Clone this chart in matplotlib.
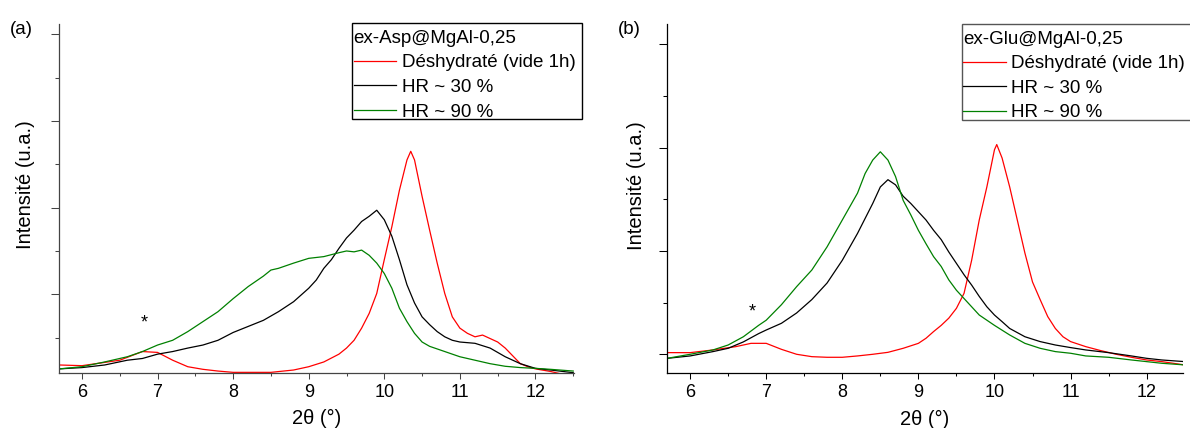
import matplotlib
matplotlib.use("Agg")
import matplotlib.pyplot as plt
from matplotlib.ticker import MultipleLocator, NullFormatter
from matplotlib.patches import Rectangle

plt.rcParams['font.family'] = ['Liberation Sans', 'DejaVu Sans']

# ---------------- data (2theta in degrees, intensity in arbitrary units) ----------------
# Panel (a): ex-Asp@MgAl-0,25
a_red_x = [5.7, 6.0, 6.5, 6.8, 7.0, 7.2, 7.4, 7.6, 7.8, 8.0, 8.5, 8.8, 9.0, 9.2, 9.4, 9.5, 9.6,
           9.7, 9.8, 9.9, 10.0, 10.1, 10.2, 10.3, 10.35, 10.4, 10.5, 10.6, 10.7, 10.8, 10.9, 11.0,
           11.1, 11.2, 11.3, 11.4, 11.5, 11.6, 11.7, 11.8, 11.9, 12.0, 12.2, 12.4, 12.5]
a_red_y = [185, 177, 240, 340, 330, 240, 165, 135, 115, 100, 100, 127, 165, 220, 310, 380, 470,
           610, 780, 1010, 1400, 1780, 2200, 2550, 2650, 2550, 2130, 1740, 1360, 1010, 740, 610,
           550, 510, 530, 490, 450, 380, 290, 200, 165, 140, 110, 70, 50]

a_blk_x = [5.7, 6.0, 6.3, 6.6, 6.8, 7.0, 7.2, 7.4, 7.6, 7.8, 8.0, 8.2, 8.4, 8.6, 8.8, 9.0, 9.1,
           9.2, 9.3, 9.4, 9.5, 9.6, 9.7, 9.8, 9.9, 10.0, 10.1, 10.2, 10.3, 10.4, 10.5, 10.6, 10.7,
           10.8, 10.9, 11.0, 11.2, 11.4, 11.6, 11.8, 12.0, 12.2, 12.5]
a_blk_y = [140, 155, 185, 240, 260, 310, 340, 380, 415, 470, 560, 630, 700, 800, 915, 1070, 1165,
           1300, 1400, 1530, 1650, 1740, 1840, 1900, 1970, 1860, 1670, 1400, 1110, 900, 740, 650, 570,
           510, 470, 450, 435, 380, 280, 200, 146, 127, 96]

a_grn_x = [5.7, 6.0, 6.3, 6.6, 6.8, 7.0, 7.2, 7.4, 7.6, 7.8, 8.0, 8.2, 8.4, 8.5, 8.6, 8.8, 9.0,
           9.2, 9.4, 9.5, 9.6, 9.7, 9.8, 9.9, 10.0, 10.1, 10.2, 10.3, 10.4, 10.5, 10.6, 10.8, 11.0,
           11.2, 11.4, 11.6, 11.8, 12.0, 12.2, 12.5]
a_grn_y = [140, 165, 220, 280, 340, 415, 470, 570, 685, 800, 950, 1090, 1210, 1280, 1300, 1360, 1415,
           1435, 1480, 1500, 1490, 1510, 1450, 1360, 1240, 1070, 840, 685, 550, 450, 400, 340, 280,
           240, 200, 170, 155, 146, 135, 115]

# Panel (b): ex-Glu@MgAl-0,25
b_red_x = [5.7, 6.0, 6.3, 6.6, 6.8, 7.0, 7.2, 7.4, 7.6, 7.8, 8.0, 8.2, 8.4, 8.6, 8.8, 9.0, 9.1,
           9.2, 9.3, 9.4, 9.5, 9.6, 9.7, 9.8, 9.9, 10.0, 10.03, 10.1, 10.2, 10.3, 10.4, 10.5, 10.6,
           10.7, 10.8, 10.9, 11.0, 11.2, 11.4, 11.6, 11.8, 12.0, 12.2, 12.5]
b_red_y = [16, 16, 42, 74, 106, 106, 48, 0, -23, -29, -29, -16, 0, 19, 58, 106, 155,
           220, 280, 350, 445, 590, 910, 1300, 1620, 1980, 2030, 1900, 1620, 1300, 980, 700, 530,
           365, 250, 170, 123, 74, 35, 0, -29, -55, -71, -103]

b_blk_x = [5.7, 6.0, 6.3, 6.5, 6.7, 6.9, 7.0, 7.2, 7.4, 7.6, 7.8, 8.0, 8.2, 8.4, 8.5, 8.6, 8.7,
           8.8, 8.9, 9.0, 9.1, 9.2, 9.3, 9.4, 9.5, 9.6, 9.7, 9.8, 9.9, 10.0, 10.1, 10.2, 10.4,
           10.6, 10.8, 11.0, 11.2, 11.5, 11.8, 12.0, 12.2, 12.5]
b_blk_y = [-39, -16, 26, 58, 120, 200, 235, 300, 400, 530, 690, 910, 1170, 1460, 1620, 1690, 1640,
           1530, 1460, 1380, 1300, 1200, 1110, 990, 880, 770, 670, 560, 460, 380, 316, 250, 170,
           123, 90, 65, 42, 16, -16, -39, -55, -71]

b_grn_x = [5.7, 6.0, 6.3, 6.5, 6.7, 6.9, 7.0, 7.2, 7.4, 7.6, 7.8, 8.0, 8.2, 8.3, 8.4, 8.5, 8.6,
           8.7, 8.8, 8.9, 9.0, 9.1, 9.2, 9.3, 9.4, 9.5, 9.6, 9.7, 9.8, 10.0, 10.2, 10.4, 10.6,
           10.8, 11.0, 11.2, 11.5, 11.8, 12.0, 12.2, 12.5]
b_grn_y = [-39, 0, 42, 90, 170, 280, 330, 480, 655, 816, 1040, 1300, 1560, 1750, 1880, 1960, 1880,
           1720, 1490, 1350, 1200, 1070, 945, 850, 720, 620, 540, 460, 380, 280, 187, 106, 58,
           26, 10, -16, -29, -55, -71, -87, -103]

labels = ["Déshydraté (vide 1h)", "HR ~ 30 %", "HR ~ 90 %"]
titles = ["ex-Asp@MgAl-0,25", "ex-Glu@MgAl-0,25"]
panel_tags = ["(a)", "(b)"]
colors = ["#ff0000", "#000000", "#008000"]

# ---------------- figure ----------------
W, H = 1190, 428
fig = plt.figure(figsize=(W / 100, H / 100), dpi=100)

def px_axes(l, r, t, b):
    return fig.add_axes([l / W, 1 - b / H, (r - l) / W, (b - t) / H])

axA = px_axes(59.3, 574.0, 24.0, 372.7)
axB = px_axes(667.3, 1182.7, 24.0, 373.3)

panels = [
    (axA, [(a_red_x, a_red_y), (a_blk_x, a_blk_y), (a_grn_x, a_grn_y)],
     (5.70, 12.51), (96, 4118), "#444444", (6.82, 670),
     (352.3, 23.3, 582.3, 119.0), "#000000", -0.047),
    (axB, [(b_red_x, b_red_y), (b_blk_x, b_blk_y), (b_grn_x, b_grn_y)],
     (5.70, 12.474), (-184, 3197), "#000000", (6.82, 410),
     (961.7, 24.0, 1196.0, 120.0), "#555555", -0.042),
]

for i, (ax, series, xl, yl, spc, star, box, legc, ylx) in enumerate(panels):
    for (xs, ys), c, lab in zip(series, colors, labels):
        ax.plot(xs, ys, color=c, lw=0.9, label=lab)
    ax.set_xlim(*xl)
    ax.set_ylim(*yl)
    for s in ["top", "right"]:
        ax.spines[s].set_visible(False)
    for s in ["left", "bottom"]:
        ax.spines[s].set_color(spc)
        ax.spines[s].set_linewidth(0.9)
    ax.xaxis.set_major_locator(MultipleLocator(1))
    ax.xaxis.set_minor_locator(MultipleLocator(0.5))
    ax.yaxis.set_major_locator(MultipleLocator(1000))
    ax.yaxis.set_minor_locator(MultipleLocator(500))
    ax.yaxis.set_major_formatter(NullFormatter())
    ax.tick_params(axis="x", which="major", length=4, width=0.75, color=spc,
                   labelsize=13, pad=4)
    ax.tick_params(axis="x", which="minor", length=2.5, width=0.75, color=spc)
    ax.tick_params(axis="y", which="major", length=5.5, width=0.75, color=spc)
    ax.tick_params(axis="y", which="minor", length=3, width=0.75, color=spc)
    ax.set_xlabel("2θ (°)", fontsize=14.5, labelpad=6)
    ax.set_ylabel("Intensité (u.a.)", fontsize=14.5)
    ax.yaxis.set_label_coords(ylx, 0.538)
    ax.text(star[0], star[1], "*", ha="center", va="center", fontsize=13)

    # legend frame drawn at its pixel position, entries placed inside it
    x0, y0, x1, y1 = box
    ax.add_patch(Rectangle((x0 / W, 1 - y1 / H), (x1 - x0) / W, (y1 - y0) / H,
                           transform=fig.transFigure, facecolor="white",
                           edgecolor=legc, linewidth=1.0, zorder=5, clip_on=False))
    leg = ax.legend(title=titles[i], loc="upper left",
                    bbox_to_anchor=((x0 + 1.2) / W, 1 - (y0 + 6.5) / H),
                    bbox_transform=fig.transFigure, borderaxespad=0,
                    fontsize=13.5, title_fontsize=13.5, alignment="left",
                    handlelength=2.28, handletextpad=0.3, labelspacing=0.4,
                    borderpad=0.0, frameon=False)
    leg.set_zorder(6)

fig.text(21 / W, 1 - 30 / H, panel_tags[0], ha="center", va="center", fontsize=13.5)
fig.text(629 / W, 1 - 30 / H, panel_tags[1], ha="center", va="center", fontsize=13.5)

fig.savefig("out.png", dpi=100)
